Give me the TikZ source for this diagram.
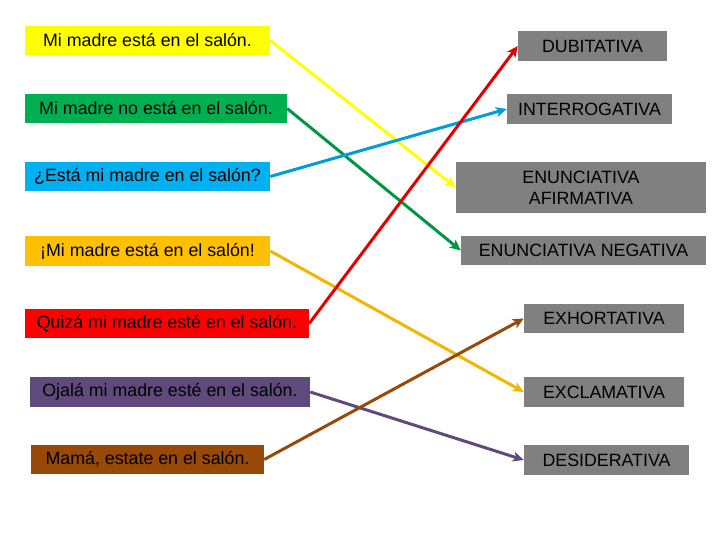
\documentclass[tikz,border=0pt]{standalone}
\usepackage{fontspec}
\setmainfont{Liberation Sans}
\usetikzlibrary{arrows.meta}
\definecolor{amarillo}{HTML}{FFFF00}
\definecolor{verde}{HTML}{00B050}
\definecolor{celeste}{HTML}{00B0F0}
\definecolor{dorado}{HTML}{FFC000}
\definecolor{rojo}{HTML}{FF0000}
\definecolor{morado}{HTML}{604A7B}
\definecolor{marron}{HTML}{984807}
\definecolor{gris}{HTML}{808080}
\tikzset{
  frase/.style={inner sep=0pt,minimum height=29bp,align=center,
    font=\fontsize{17.8bp}{21bp}\selectfont},
  tipo/.style={frase,fill=gris},
  flecha/.style={line width=3bp,-{Stealth[length=11bp,width=10bp,inset=3bp]}},
}
\begin{document}
\begin{tikzpicture}[line join=bevel,]
\useasboundingbox (0bp,0bp) rectangle (720bp,540bp);
%%
\node (frase_1) at (147.5bp,499.5bp) [frase,fill=amarillo,minimum width=245bp] {Mi madre está en el salón.};
  \node (frase_2) at (156bp,431.5bp) [frase,fill=verde,minimum width=262bp] {Mi madre no está en el salón.};
  \node (frase_3) at (147.5bp,363.5bp) [frase,fill=celeste,minimum width=245bp] {¿Está mi madre en el salón?};
  \node (frase_4) at (147.5bp,289bp) [frase,fill=dorado,minimum width=245bp,minimum height=30bp] {¡Mi madre está en el salón!};
  \node (frase_5) at (167bp,216.5bp) [frase,fill=rojo,minimum width=284bp] {Quizá mi madre esté en el salón.};
  \node (frase_6) at (170bp,148bp) [frase,fill=morado,minimum width=280bp,minimum height=30bp] {Ojalá mi madre esté en el salón.};
  \node (frase_7) at (147.5bp,80.5bp) [frase,fill=marron,minimum width=233bp] {Mamá, estate en el salón.};
%
\node (tipo_dub) at (592.5bp,494bp) [tipo,minimum width=149bp,minimum height=30bp] {DUBITATIVA};
  \node (tipo_int) at (589.5bp,431bp) [tipo,minimum width=165bp,minimum height=30bp] {INTERROGATIVA};
  \node (tipo_afi) at (581bp,352.5bp) [tipo,minimum width=250bp,minimum height=51bp] {ENUNCIATIVA\\AFIRMATIVA};
  \node (tipo_neg) at (583.5bp,289.5bp) [tipo,minimum width=245bp] {ENUNCIATIVA NEGATIVA};
  \node (tipo_exh) at (604bp,221.5bp) [tipo,minimum width=160bp] {EXHORTATIVA};
  \node (tipo_exc) at (604bp,148bp) [tipo,minimum width=160bp,minimum height=30bp] {EXCLAMATIVA};
  \node (tipo_des) at (606.5bp,80bp) [tipo,minimum width=165bp,minimum height=30bp] {DESIDERATIVA};
%
\draw [flecha,amarillo] (frase_1.east) -- (tipo_afi.west);
  \draw [flecha,verde!85!black] (frase_2.east) -- (tipo_neg.west);
  \draw [flecha,celeste!90!black] (frase_3.east) -- (tipo_int.west);
  \draw [flecha,dorado!95!black] (frase_4.east) -- (tipo_exc.west);
  \draw [flecha,rojo!90!black] (frase_5.east) -- (tipo_dub.west);
  \draw [flecha,morado] (frase_6.east) -- (tipo_des.west);
  \draw [flecha,marron] (frase_7.east) -- (tipo_exh.west);
%
\end{tikzpicture}
\end{document}
